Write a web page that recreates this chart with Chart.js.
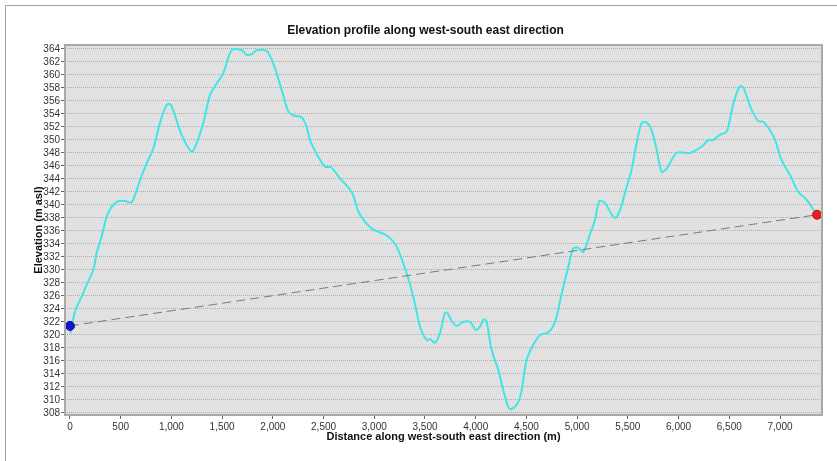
<!DOCTYPE html>
<html lang="en">
<head>
    <meta charset="UTF-8">
    <title>Elevation profile</title>
    <script src="https://cdn.jsdelivr.net/npm/chart.js"></script>
    <style>
        body { margin: 0; background: #fff; }
        canvas { display: block; }
    </style>
</head>
<body>
    <canvas id="profileChart" width="837" height="461"></canvas>

    <script>
        // Profile: distance (m) and elevation (m asl)
        const distance = [5, 49, 115, 164, 230, 263, 312, 362, 411, 476, 540, 608, 690, 756, 822, 887, 953, 996,
            1101, 1200, 1249, 1314, 1380, 1446, 1512, 1594, 1693, 1742, 1791, 1840, 1939, 2004, 2087, 2152, 2202,
            2284, 2333, 2366, 2448, 2514, 2575, 2662, 2777, 2843, 2909, 2990, 3089, 3155, 3221, 3319, 3385, 3451,
            3517, 3549, 3599, 3648, 3697, 3720, 3763, 3812, 3877, 3944, 4000, 4042, 4082, 4108, 4157, 4223, 4272,
            4322, 4354, 4420, 4453, 4502, 4568, 4634, 4716, 4782, 4848, 4913, 4962, 5012, 5061, 5127, 5176, 5219,
            5275, 5324, 5373, 5422, 5488, 5537, 5587, 5636, 5685, 5734, 5784, 5833, 5882, 5981, 6113, 6178, 6244,
            6293, 6342, 6408, 6474, 6540, 6599, 6632, 6672, 6721, 6786, 6836, 6901, 6951, 7016, 7099, 7181, 7263,
            7312, 7362];
        const elevation = [320.3, 323.6, 325.9, 327.7, 330, 332.6, 335.1, 338.2, 339.7, 340.6, 340.6, 340.4, 343.8,
            346.4, 348.7, 352.6, 355.4, 355.4, 350.8, 348.2, 349.5, 352.6, 356.9, 358.7, 360.3, 363.8, 363.8, 363.1,
            363.2, 363.8, 363.7, 361.8, 357.7, 354.4, 353.8, 353.5, 352.0, 350, 347.4, 345.9, 345.8, 344.1, 342.0,
            339.0, 337.4, 336.2, 335.6, 334.9, 333.6, 329.5, 325.9, 321.3, 319.2, 319.4, 318.8, 320.3, 323.4, 323.4,
            322.2, 321.4, 322.0, 322.0, 320.8, 321.3, 322.4, 322.0, 317.7, 314.6, 311.5, 308.9, 308.6, 309.7, 311.5,
            316.2, 318.5, 320, 320.4, 322.0, 326.4, 330.5, 333.3, 333.4, 332.8, 335.5, 337.7, 340.6, 340.3, 339.0,
            338.0, 339.2, 342.8, 345.4, 349.5, 352.6, 352.7, 351.5, 348.5, 345.1, 345.6, 348.0, 348.0, 348.5, 349.2,
            350, 350, 350.8, 351.3, 355.6, 358.2, 358.2, 356.7, 354.6, 352.9, 352.8, 351.5, 350, 346.9, 344.6, 342.0,
            340.8, 339.7, 338.5];

        // Start and end points of the profile (joined by the dashed line)
        const startPoint = [0, 321.4];
        const endPoint = [7365, 338.5];

        const xTicks = [0, 500, 1000, 1500, 2000, 2500, 3000, 3500, 4000, 4500, 5000, 5500, 6000, 6500, 7000];
        const yTicks = [308, 310, 312, 314, 316, 318, 320, 322, 324, 326, 328, 330, 332, 334, 336, 338, 340, 342,
            344, 346, 348, 350, 352, 354, 356, 358, 360, 362, 364];

        const titleText = 'Elevation profile along west-south east direction';

        const profilePoints = distance.map((d, i) => ({ x: d, y: elevation[i] }));

        // white page, outer frame and grey plot area
        const backdrop = {
            id: 'backdrop',
            beforeDraw(chart) {
                const { ctx, chartArea: a } = chart;
                ctx.save();
                ctx.fillStyle = '#fff';
                ctx.fillRect(0, 0, chart.width, chart.height);
                ctx.strokeStyle = '#a0a0a0';
                ctx.lineWidth = 1;
                ctx.beginPath();
                ctx.moveTo(5.5, chart.height);
                ctx.lineTo(5.5, 5.5);
                ctx.lineTo(chart.width, 5.5);
                ctx.stroke();
                ctx.fillStyle = '#e1e1e1';
                ctx.fillRect(a.left, a.top, a.right - a.left, a.bottom - a.top);
                ctx.restore();
            },
            afterDraw(chart) {
                const { ctx, chartArea: a } = chart;
                ctx.save();
                ctx.strokeStyle = '#a9a9a9';
                ctx.lineWidth = 2;
                ctx.strokeRect(a.left, a.top, a.right - a.left, a.bottom - a.top);
                ctx.fillStyle = '#111';
                ctx.font = 'bold 12px "Liberation Sans", Arial, sans-serif';
                ctx.textAlign = 'center';
                ctx.textBaseline = 'middle';
                ctx.fillText(titleText, 425.5, 31);
                ctx.restore();
            }
        };

        const tickFont = { family: '"Liberation Sans", Arial, sans-serif', size: 10 };
        const titleFont = { family: '"Liberation Sans", Arial, sans-serif', size: 11, weight: 'bold' };

        const ctx = document.getElementById('profileChart').getContext('2d');
        const profileChart = new Chart(ctx, {
            type: 'scatter',
            data: {
                datasets: [
                    {
                        label: 'Start',
                        data: [{ x: startPoint[0], y: startPoint[1] }],
                        backgroundColor: '#1414d2',
                        borderColor: '#0c0c9c',
                        pointRadius: 4.5,
                        order: 0
                    },
                    {
                        label: 'End',
                        data: [{ x: endPoint[0], y: endPoint[1] }],
                        backgroundColor: '#e82020',
                        borderColor: '#c01010',
                        pointRadius: 4.5,
                        order: 0
                    },
                    {
                        label: 'Straight line',
                        data: [{ x: startPoint[0], y: startPoint[1] }, { x: endPoint[0], y: endPoint[1] }],
                        showLine: true,
                        borderColor: '#7a7a7a',
                        borderWidth: 1,
                        borderDash: [9, 5],
                        pointRadius: 0,
                        order: 1
                    },
                    {
                        label: 'Profile',
                        data: profilePoints,
                        showLine: true,
                        borderColor: '#40e6e6',
                        borderWidth: 2,
                        tension: 0.3,
                        pointRadius: 0,
                        order: 2
                    }
                ]
            },
            options: {
                responsive: false,
                animation: false,
                events: [],
                layout: { padding: { left: 5, right: 15, top: 45, bottom: 0 } },
                plugins: {
                    legend: { display: false },
                    title: { display: false },
                    tooltip: { enabled: false }
                },
                scales: {
                    x: {
                        type: 'linear',
                        min: -49,
                        max: 7414,
                        afterBuildTicks: axis => { axis.ticks = xTicks.map(v => ({ value: v })); },
                        afterFit: axis => { axis.height = 46; },
                        ticks: {
                            font: tickFont,
                            color: '#333',
                            padding: 2,
                            maxRotation: 0,
                            autoSkip: false,
                            callback: v => v.toLocaleString('en-US')
                        },
                        grid: { drawOnChartArea: false, tickLength: 4, tickColor: '#666' },
                        border: { display: false },
                        title: {
                            display: true,
                            text: 'Distance along west-south east direction (m)',
                            font: titleFont,
                            color: '#111',
                            padding: { top: 0, bottom: 17.5 }
                        }
                    },
                    y: {
                        type: 'linear',
                        min: 307.69,
                        max: 364.615,
                        afterBuildTicks: axis => { axis.ticks = yTicks.map(v => ({ value: v })); },
                        afterFit: axis => { axis.width = 60; },
                        ticks: { font: tickFont, color: '#333', padding: 1, autoSkip: false },
                        grid: {
                            color: '#acacac',
                            lineWidth: 1,
                            tickLength: 4,
                            tickColor: '#666',
                            tickBorderDash: [],
                            borderDash: [1, 1]
                        },
                        border: { display: false, dash: [1, 1] },
                        title: {
                            display: true,
                            text: 'Elevation (m asl)',
                            font: titleFont,
                            color: '#111',
                            padding: { top: 27, bottom: 0 }
                        }
                    }
                }
            },
            plugins: [backdrop]
        });
    </script>
</body>
</html>
